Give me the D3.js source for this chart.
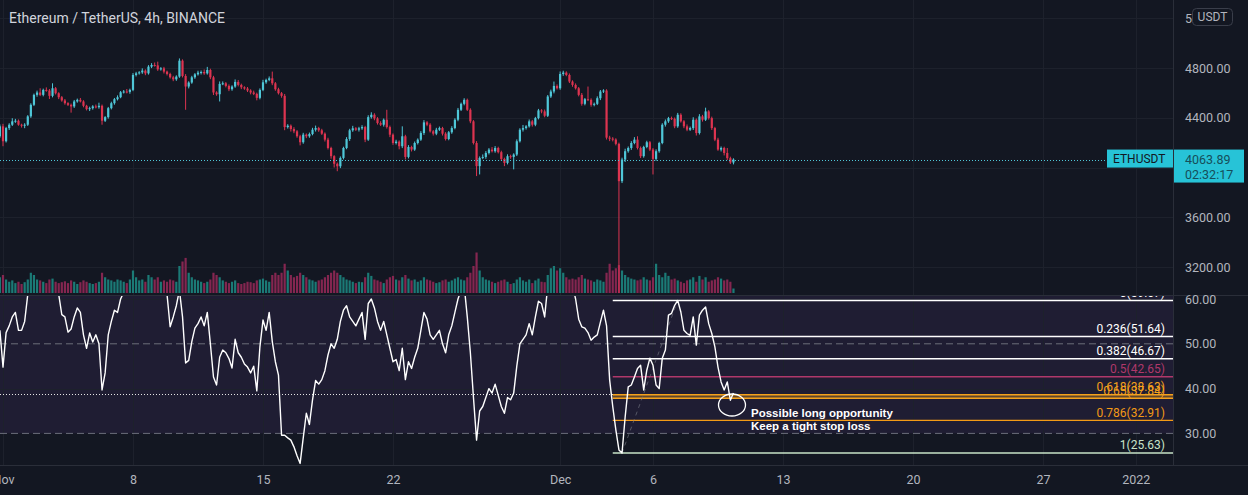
<!DOCTYPE html>
<html>
<head>
<meta charset="utf-8">
<script src="https://cdn.jsdelivr.net/npm/d3@7"></script>
<style>
  html, body { margin: 0; padding: 0; background: #131722; }
  svg { display: block; font-family: Roboto, "Noto Sans", sans-serif; }
</style>
</head>
<body>
<div id="chart"></div>
<script>
// Width and height
const WIDTH = 1248;
const HEIGHT = 495;
const PLOT_RIGHT = 1173;
const PRICE_BOTTOM = 294;
const RSI_TOP = 296;
const RSI_BOTTOM = 465;

// Candles: 4h, first one is Oct 31 20:00 UTC; open = previous close
const START = Date.UTC(2021, 9, 31, 20);
const FOUR_H = 4 * 3600 * 1000;
const firstOpen = 4251;
const closes = [
  4331, 4211, 4317, 4344, 4371, 4376, 4344, 4336, 4344, 4411,
  4504, 4584, 4603, 4584, 4624, 4619, 4576, 4637, 4597, 4565,
  4539, 4517, 4504, 4491, 4531, 4544, 4531, 4496, 4469, 4477,
  4491, 4485, 4496, 4376, 4405, 4477, 4517, 4549, 4565, 4605,
  4611, 4608, 4624, 4744, 4757, 4765, 4779, 4757, 4811, 4824,
  4821, 4789, 4797, 4771, 4752, 4725, 4709, 4731, 4859, 4736,
  4651, 4683, 4725, 4749, 4763, 4768, 4757, 4784, 4725, 4603,
  4589, 4672, 4677, 4656, 4629, 4651, 4688, 4664, 4645, 4635,
  4619, 4603, 4592, 4560, 4624, 4685, 4704, 4717, 4677, 4629,
  4597, 4576, 4325, 4336, 4309, 4291, 4251, 4203, 4264, 4251,
  4269, 4304, 4317, 4299, 4272, 4224, 4157, 4091, 4030, 4010,
  4077, 4157, 4229, 4299, 4315, 4304, 4315, 4325, 4224, 4405,
  4424, 4395, 4357, 4344, 4384, 4325, 4264, 4197, 4208, 4171,
  4251, 4085, 4165, 4144, 4197, 4224, 4277, 4363, 4344, 4291,
  4272, 4304, 4317, 4272, 4229, 4283, 4317, 4384, 4464, 4512,
  4544, 4464, 4371, 4197, 4011, 4077, 4085, 4117, 4144, 4131,
  4157, 4123, 4069, 4037, 4091, 4085, 4104, 4211, 4304, 4317,
  4331, 4371, 4344, 4397, 4459, 4451, 4416, 4571, 4611, 4656,
  4637, 4752, 4763, 4744, 4691, 4664, 4637, 4584, 4512, 4549,
  4544, 4504, 4512, 4557, 4611, 4619, 4240, 4232, 4225, 4190,
  3890, 4064, 4131, 4157, 4197, 4224, 4157, 4091, 4165, 4203,
  4144, 4069, 4131, 4197, 4344, 4371, 4397, 4392, 4331, 4424,
  4371, 4331, 4304, 4317, 4384, 4277, 4411, 4384, 4451, 4397,
  4317, 4224, 4144, 4157, 4117, 4075, 4040, 4063.89
];
const upWick = [
  15, 20, 10, 12, 25, 15, 10, 8, 12, 10,
  12, 10, 15, 34, 10, 20, 12, 40, 10, 8,
  10, 12, 8, 10, 12, 10, 15, 10, 8, 12,
  10, 15, 25, 10, 8, 10, 12, 10, 15, 10,
  12, 20, 10, 15, 12, 10, 18, 10, 12, 15,
  20, 30, 10, 12, 8, 10, 12, 10, 18, 10,
  15, 10, 12, 10, 15, 12, 20, 25, 10, 12,
  10, 20, 15, 10, 12, 10, 20, 15, 10, 8,
  12, 10, 15, 10, 12, 20, 10, 15, 54, 10,
  12, 10, 15, 12, 10, 15, 10, 12, 15, 10,
  12, 15, 20, 10, 12, 10, 15, 10, 8, 10,
  12, 10, 15, 12, 20, 10, 12, 15, 10, 15,
  20, 12, 10, 15, 10, 80, 12, 10, 15, 10,
  80, 12, 15, 10, 12, 10, 15, 18, 10, 12,
  10, 15, 12, 10, 12, 10, 15, 12, 15, 10,
  13, 10, 12, 10, 15, 12, 20, 15, 12, 20,
  15, 10, 12, 10, 15, 12, 10, 15, 12, 25,
  10, 15, 12, 10, 12, 10, 15, 12, 15, 35,
  12, 20, 15, 10, 12, 10, 12, 10, 15, 10,
  102, 12, 10, 15, 12, 10, 10, 15, 12, 10,
  10, 15, 20, 12, 15, 20, 27, 12, 10, 12,
  10, 12, 15, 10, 12, 15, 10, 12, 10, 15,
  12, 10, 15, 12, 20, 10, 18, 12, 30, 10,
  12, 10, 15, 12, 10, 40, 12, 10
];
const dnWick = [
  12, 40, 10, 15, 10, 12, 8, 15, 20, 10,
  12, 10, 15, 10, 12, 10, 25, 12, 10, 15,
  10, 12, 10, 50, 12, 10, 8, 12, 10, 15,
  12, 10, 12, 32, 10, 12, 10, 12, 10, 8,
  10, 12, 15, 10, 12, 10, 12, 15, 10, 12,
  10, 12, 10, 15, 12, 10, 15, 12, 10, 12,
  187, 15, 10, 12, 10, 15, 12, 10, 15, 20,
  12, 58, 10, 12, 15, 12, 10, 12, 15, 10,
  12, 15, 10, 20, 12, 10, 12, 10, 15, 12,
  10, 15, 25, 12, 20, 15, 12, 25, 12, 15,
  12, 10, 15, 12, 10, 15, 12, 20, 30, 40,
  15, 12, 10, 15, 12, 10, 15, 12, 20, 10,
  12, 15, 12, 10, 15, 12, 20, 15, 12, 25,
  15, 20, 12, 15, 10, 12, 10, 15, 12, 10,
  15, 12, 10, 15, 12, 10, 12, 10, 12, 10,
  12, 10, 15, 12, 80, 67, 10, 15, 12, 10,
  12, 10, 15, 26, 12, 15, 100, 12, 10, 15,
  12, 10, 15, 12, 10, 15, 12, 10, 12, 15,
  10, 12, 15, 10, 12, 15, 10, 12, 15, 12,
  10, 15, 12, 10, 15, 12, 15, 20, 15, 12,
  900, 15, 20, 12, 15, 10, 12, 15, 12, 10,
  12, 125, 15, 12, 10, 15, 12, 10, 15, 12,
  10, 15, 12, 10, 15, 20, 12, 15, 10, 12,
  15, 12, 10, 15, 20, 15, 12, 15
];
// Volume (thousand ETH, rough)
const volumes = [
  35, 40, 30, 25, 28, 22, 25, 20, 24, 30,
  45, 40, 30, 28, 25, 22, 30, 32, 25, 22,
  24, 26, 22, 28, 25, 20, 24, 28, 25, 22,
  20, 22, 25, 45, 35, 30, 28, 25, 30, 28,
  25, 22, 30, 50, 35, 28, 30, 25, 40, 35,
  30, 35, 25, 28, 25, 30, 28, 25, 60, 70,
  78, 45, 35, 30, 28, 25, 22, 25, 30, 45,
  40, 35, 28, 25, 22, 25, 28, 22, 20, 22,
  25, 24, 22, 28, 30, 32, 28, 25, 40, 45,
  40, 45, 65, 50, 40, 35, 38, 45, 40, 35,
  30, 28, 25, 28, 30, 35, 40, 45, 50, 45,
  40, 35, 30, 28, 25, 22, 25, 24, 35, 45,
  38, 30, 28, 25, 22, 30, 35, 38, 30, 28,
  35, 40, 32, 28, 30, 25, 28, 35, 30, 28,
  25, 22, 24, 28, 30, 25, 28, 32, 35, 30,
  28, 35, 45, 60, 90, 50, 35, 30, 28, 25,
  22, 25, 28, 30, 25, 20, 22, 30, 35, 28,
  25, 30, 22, 28, 32, 25, 24, 40, 55, 60,
  50, 55, 45, 35, 30, 32, 30, 35, 40, 32,
  30, 28, 25, 30, 28, 25, 45, 65, 50, 55,
  62, 50, 40, 35, 32, 30, 28, 30, 35, 30,
  28, 35, 65, 40, 35, 45, 38, 30, 32, 28,
  25, 22, 28, 30, 35, 25, 38, 30, 35, 25,
  28, 30, 35, 32, 28, 30, 25, 10
];
// RSI(14) per candle
const rsi = [
  53, 44.8, 52.5, 54, 56, 57, 53, 53, 55, 61,
  66, 70, 72, 66, 68, 67, 63, 67, 64, 61,
  56.5, 56, 52.6, 53.3, 56, 58, 57, 52, 49, 52.4,
  50.4, 52, 50, 39.7, 43.5, 52, 55, 57.5, 57, 60,
  61.5, 62, 64, 70, 71, 72, 73, 69, 74, 75,
  74, 68, 69, 65, 61, 53.8, 56, 58.5, 62, 56,
  45.7, 46.3, 50.5, 53.5, 54.5, 56, 54, 57, 50, 42.6,
  40.8, 47, 48.6, 48, 46.7, 44.6, 51, 48, 47, 45.5,
  44.8, 43.5, 45, 39.5, 49.3, 55.3, 53, 57, 50.5, 46,
  43, 29.6, 29.6, 29, 28.5, 27, 25, 23.3, 29, 34.5,
  32, 37.5, 41.8, 41, 42, 44, 47.5, 50, 49, 51,
  55, 57.5, 58.5, 56, 55, 54, 55.5, 57, 51, 59,
  60, 58, 55, 53, 55, 52, 49, 46, 46.5, 44,
  49, 42, 46, 44.5, 47, 49, 53, 57, 55.5, 52,
  51, 52, 53, 50, 48, 52, 54, 57, 60, 62,
  63, 56, 48, 38, 28.5, 35, 36, 38, 40, 39,
  41, 38.5, 36, 34.5, 38, 37.5, 39, 45, 50, 51,
  52, 54.5, 52, 56, 59.5, 59, 56, 63, 65, 67,
  66, 71, 72, 70, 66, 63, 60, 55.5, 53.8, 53.5,
  52.5, 50.8, 51.5, 52, 54.8, 57.5, 54, 41.9, 36, 30.8,
  26.3, 25.63, 33.6, 40.4, 40.8, 42.6, 44.5, 45.2, 39.7, 44.1,
  46.8, 45.2, 40.8, 40, 46.8, 48.6, 56.4, 56.8, 58.6, 59.67,
  57.1, 53, 52.3, 51.9, 56, 49.7, 56.4, 57.5, 58.2, 54.5,
  52.3, 49.3, 44.8, 41.5, 39.7, 41.5, 37.4, 39
];
const rsiMarker = 38.9;

// Fibonacci retracement on the RSI
const fibRatios = ["0", "0.236", "0.382", "0.5", "0.618", "0.65", "0.786", "1"];
const fibValues = [59.67, 51.64, 46.67, 42.65, 38.63, 37.84, 32.91, 25.63];
const fibColors = ["#ffffff", "#ffffff", "#ffffff", "#b0386a", "#f5a11c", "#f5a11c", "#f39a16", "#c9e4c9"];
const fibStartK = 198;
const fibLowK = 201;
const fibHighK = 219;

// Axes
const priceTicks = [5200, 4800, 4400, 3600, 3200];
const priceGrid = [5200, 4800, 4400, 4000, 3600, 3200];
const rsiTicks = [60, 50, 40, 30];
const dateTicks = [
  Date.UTC(2021, 10, 1), Date.UTC(2021, 10, 8), Date.UTC(2021, 10, 15), Date.UTC(2021, 10, 22),
  Date.UTC(2021, 11, 1), Date.UTC(2021, 11, 6), Date.UTC(2021, 11, 13), Date.UTC(2021, 11, 20),
  Date.UTC(2021, 11, 27), Date.UTC(2022, 0, 1)
].map((d) => new Date(d));

const lastPrice = 4063.89;
const countdown = "02:32:17";
const title = "Ethereum / TetherUS, 4h, BINANCE";
const note = ["Possible long opportunity", "Keep a tight stop loss"];

// Colors
const BG = "#131722";
const GRID = "#1d212c";
const UP = "#4fc7d8";
const DOWN = "#dc3450";
const AXIS_TEXT = "#b2b5be";

// SVG
const svg = d3
  .select("#chart")
  .append("svg")
  .attr("width", WIDTH)
  .attr("height", HEIGHT);

svg.append("rect").attr("width", WIDTH).attr("height", HEIGHT).attr("fill", BG);

const defs = svg.append("defs");
defs.append("clipPath").attr("id", "clipPrice")
  .append("rect").attr("x", 0).attr("y", 0).attr("width", PLOT_RIGHT).attr("height", PRICE_BOTTOM);
defs.append("clipPath").attr("id", "clipRsi")
  .append("rect").attr("x", 0).attr("y", RSI_TOP).attr("width", PLOT_RIGHT).attr("height", RSI_BOTTOM - RSI_TOP);

// Scales
const x = d3
  .scaleUtc()
  .domain([new Date(Date.UTC(2021, 10, 1)), new Date(Date.UTC(2022, 0, 1))])
  .range([3, 3 + 61 * 18.571]);
const yPrice = d3.scaleLinear().domain([3200, 4800]).range([267, 68]);
const yVol = d3.scaleLinear().domain([0, 100]).range([293, 248]);
const yRsi = d3.scaleLinear().domain([30, 60]).range([433.4, 299]);

const candles = closes.map((c, i) => {
  const o = i === 0 ? firstOpen : closes[i - 1];
  return {
    t: new Date(START + i * FOUR_H),
    o: o,
    c: c,
    h: Math.max(o, c) + upWick[i],
    l: Math.min(o, c) - dnWick[i],
    v: volumes[i],
    r: rsi[i],
  };
});

// RSI background band (30..70)
svg.append("rect")
  .attr("x", 0)
  .attr("y", RSI_TOP)
  .attr("width", PLOT_RIGHT)
  .attr("height", yRsi(30) - RSI_TOP)
  .attr("fill", "#1f1d33");

// Grid
const grid = svg.append("g").attr("stroke", GRID).attr("stroke-width", 1);
grid.selectAll(".vgrid")
  .data(dateTicks)
  .enter()
  .append("line")
  .attr("x1", (d) => Math.round(x(d)) + 0.5)
  .attr("x2", (d) => Math.round(x(d)) + 0.5)
  .attr("y1", 0)
  .attr("y2", RSI_BOTTOM);
grid.selectAll(".hgrid")
  .data(priceGrid)
  .enter()
  .append("line")
  .attr("x1", 0)
  .attr("x2", PLOT_RIGHT)
  .attr("y1", (d) => Math.round(yPrice(d)) + 0.5)
  .attr("y2", (d) => Math.round(yPrice(d)) + 0.5);
grid.selectAll(".rgrid")
  .data([60, 40])
  .enter()
  .append("line")
  .attr("x1", 0)
  .attr("x2", PLOT_RIGHT)
  .attr("y1", (d) => Math.round(yRsi(d)) + 0.5)
  .attr("y2", (d) => Math.round(yRsi(d)) + 0.5);

// Volume
const BAR_W = 2.2;
svg.append("g")
  .attr("clip-path", "url(#clipPrice)")
  .selectAll("rect")
  .data(candles)
  .enter()
  .append("rect")
  .attr("x", (d) => x(d.t) - BAR_W / 2)
  .attr("width", BAR_W)
  .attr("y", (d) => yVol(d.v))
  .attr("height", (d) => yVol(0) - yVol(d.v))
  .attr("fill", (d) => (d.c >= d.o ? "#1b7a76" : "#842650"));

// Candles
const cg = svg.append("g").attr("clip-path", "url(#clipPrice)");
cg.selectAll("line")
  .data(candles)
  .enter()
  .append("line")
  .attr("x1", (d) => x(d.t))
  .attr("x2", (d) => x(d.t))
  .attr("y1", (d) => yPrice(d.h))
  .attr("y2", (d) => yPrice(d.l))
  .attr("stroke", (d) => (d.c >= d.o ? UP : DOWN))
  .attr("stroke-width", 1);
cg.selectAll("rect")
  .data(candles)
  .enter()
  .append("rect")
  .attr("x", (d) => x(d.t) - BAR_W / 2)
  .attr("width", BAR_W)
  .attr("y", (d) => yPrice(Math.max(d.o, d.c)))
  .attr("height", (d) => Math.max(1, Math.abs(yPrice(d.o) - yPrice(d.c))))
  .attr("fill", (d) => (d.c >= d.o ? UP : DOWN));

// Last price line
svg.append("line")
  .attr("x1", 0)
  .attr("x2", 1107)
  .attr("y1", Math.round(yPrice(lastPrice)) + 0.5)
  .attr("y2", Math.round(yPrice(lastPrice)) + 0.5)
  .attr("stroke", UP)
  .attr("stroke-width", 1)
  .attr("stroke-dasharray", "1,2");

// Pane separator
svg.append("line")
  .attr("x1", 0).attr("x2", WIDTH)
  .attr("y1", 295.5).attr("y2", 295.5)
  .attr("stroke", "#2a2e39");

// RSI levels
svg.selectAll(".rsiLevel")
  .data([50, 30])
  .enter()
  .append("line")
  .attr("x1", 0)
  .attr("x2", PLOT_RIGHT)
  .attr("y1", (d) => yRsi(d))
  .attr("y2", (d) => yRsi(d))
  .attr("stroke", "#6b6e7a")
  .attr("stroke-dasharray", "7,4");
svg.append("line")
  .attr("x1", 0)
  .attr("x2", PLOT_RIGHT)
  .attr("y1", Math.round(yRsi(rsiMarker)) + 0.5)
  .attr("y2", Math.round(yRsi(rsiMarker)) + 0.5)
  .attr("stroke", "#e6e6e6")
  .attr("stroke-dasharray", "1,2");

// Fib retracement
const fibX1 = x(candles[fibStartK].t);
const fg = svg.append("g").attr("clip-path", "url(#clipRsi)");
fg.append("rect")
  .attr("x", fibX1)
  .attr("width", PLOT_RIGHT - fibX1)
  .attr("y", yRsi(fibValues[4]))
  .attr("height", yRsi(fibValues[5]) - yRsi(fibValues[4]))
  .attr("fill", "#f5a11c")
  .attr("opacity", 0.3);
fg.selectAll(".fib")
  .data(fibValues)
  .enter()
  .append("line")
  .attr("x1", fibX1)
  .attr("x2", PLOT_RIGHT)
  .attr("y1", (d) => yRsi(d))
  .attr("y2", (d) => yRsi(d))
  .attr("stroke", (d, i) => fibColors[i])
  .attr("stroke-width", 1.4);
fg.selectAll(".fibLabel")
  .data(fibValues)
  .enter()
  .append("text")
  .attr("x", 1165)
  .attr("y", (d) => yRsi(d) - 3.5)
  .attr("text-anchor", "end")
  .attr("font-size", 12)
  .attr("fill", (d, i) => fibColors[i])
  .text((d, i) => fibRatios[i] + "(" + d.toFixed(2) + ")");
fg.append("line")
  .attr("x1", x(candles[fibLowK].t))
  .attr("y1", yRsi(fibValues[7]))
  .attr("x2", x(candles[fibHighK].t))
  .attr("y2", yRsi(fibValues[0]))
  .attr("stroke", "#787b86")
  .attr("stroke-opacity", 0.6)
  .attr("stroke-dasharray", "4,4");

// RSI line
svg.append("path")
  .datum(candles)
  .attr("clip-path", "url(#clipRsi)")
  .attr("fill", "none")
  .attr("stroke", "#ffffff")
  .attr("stroke-width", 1.4)
  .attr("stroke-linejoin", "round")
  .attr("d", d3.line().x((d) => x(d.t)).y((d) => yRsi(d.r)));

// Annotation
svg.append("ellipse")
  .attr("cx", 732)
  .attr("cy", 405)
  .attr("rx", 13.5)
  .attr("ry", 11)
  .attr("fill", "none")
  .attr("stroke", "#ffffff")
  .attr("stroke-width", 1.3);
svg.selectAll(".note")
  .data(note)
  .enter()
  .append("text")
  .attr("x", 751)
  .attr("y", (d, i) => 416.5 + i * 13.5)
  .attr("font-family", "'Liberation Sans', Arial, sans-serif")
  .attr("font-weight", "bold")
  .attr("font-size", 11.5)
  .attr("fill", "#ffffff")
  .text((d) => d);

// Axis borders
svg.append("line")
  .attr("x1", PLOT_RIGHT + 0.5).attr("x2", PLOT_RIGHT + 0.5)
  .attr("y1", 0).attr("y2", RSI_BOTTOM)
  .attr("stroke", "#2a2e39");
svg.append("line")
  .attr("x1", 0).attr("x2", WIDTH)
  .attr("y1", RSI_BOTTOM + 0.5).attr("y2", RSI_BOTTOM + 0.5)
  .attr("stroke", "#2a2e39");

// Price axis
const priceAxis = svg.append("g")
  .attr("transform", "translate(" + PLOT_RIGHT + ",0)")
  .call(d3.axisRight(yPrice).tickValues(priceTicks).tickSize(0).tickPadding(12).tickFormat(d3.format(".2f")));
priceAxis.select(".domain").remove();
priceAxis.selectAll("text").attr("fill", AXIS_TEXT).attr("font-size", 12.5).attr("font-family", "Roboto, sans-serif");

// RSI axis
const rsiAxis = svg.append("g")
  .attr("transform", "translate(" + PLOT_RIGHT + ",0)")
  .call(d3.axisRight(yRsi).tickValues(rsiTicks).tickSize(0).tickPadding(12).tickFormat(d3.format(".2f")));
rsiAxis.select(".domain").remove();
rsiAxis.selectAll("text").attr("fill", AXIS_TEXT).attr("font-size", 12.5).attr("font-family", "Roboto, sans-serif");

// Time axis
const fmtDate = (d) => {
  if (d.getUTCDate() === 1) {
    return d.getUTCMonth() === 0 ? String(d.getUTCFullYear()) : d3.utcFormat("%b")(d);
  }
  return String(d.getUTCDate());
};
const timeAxis = svg.append("g")
  .attr("transform", "translate(0," + RSI_BOTTOM + ")")
  .call(d3.axisBottom(x).tickValues(dateTicks).tickSize(0).tickPadding(10).tickFormat(fmtDate));
timeAxis.select(".domain").remove();
timeAxis.selectAll("text").attr("fill", AXIS_TEXT).attr("font-size", 12.5).attr("font-family", "Roboto, sans-serif");

// Title
svg.append("text")
  .attr("x", 9)
  .attr("y", 22.5)
  .attr("font-size", 14)
  .attr("fill", "#d1d4dc")
  .text(title);

// USDT button
svg.append("rect")
  .attr("x", 1192.5).attr("y", 8.5)
  .attr("width", 40).attr("height", 17).attr("rx", 4)
  .attr("fill", BG).attr("stroke", "#3a3e4a");
svg.append("text")
  .attr("x", 1212.5).attr("y", 17)
  .attr("dy", "0.35em")
  .attr("text-anchor", "middle")
  .attr("font-size", 12)
  .attr("fill", AXIS_TEXT)
  .text("USDT");

// Last price labels
const ly = yPrice(lastPrice);
svg.append("rect")
  .attr("x", 1107).attr("y", ly - 10)
  .attr("width", 66).attr("height", 18)
  .attr("fill", "#27c3d7");
svg.append("text")
  .attr("x", 1113).attr("y", ly - 1)
  .attr("dy", "0.35em")
  .attr("font-size", 12)
  .attr("fill", "#131722")
  .text("ETHUSDT");
svg.append("rect")
  .attr("x", PLOT_RIGHT + 1).attr("y", ly - 10)
  .attr("width", 70).attr("height", 33)
  .attr("fill", "#27c3d7");
svg.append("text")
  .attr("x", 1185).attr("y", ly)
  .attr("dy", "0.35em")
  .attr("font-size", 12.5)
  .attr("fill", "#164e5a")
  .text(lastPrice.toFixed(2));
svg.append("text")
  .attr("x", 1185).attr("y", ly + 15)
  .attr("dy", "0.35em")
  .attr("font-size", 12.5)
  .attr("fill", "#164e5a")
  .text(countdown);
</script>
</body>
</html>
